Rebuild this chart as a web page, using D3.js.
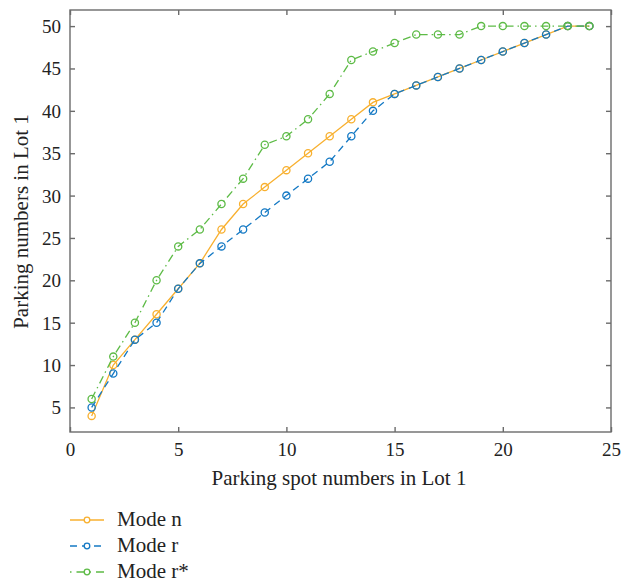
<!DOCTYPE html>
<html><head><meta charset="utf-8">
<script src="https://cdn.jsdelivr.net/npm/d3@7"></script>
<style>body{margin:0;background:#fff}svg{display:block}text{font-family:"Liberation Serif","Times New Roman",serif;fill:#222}</style>
</head><body><svg id="c" width="632" height="583"></svg>
<script>
const spots = [1,2,3,4,5,6,7,8,9,10,11,12,13,14,15,16,17,18,19,20,21,22,23,24];
const modeN = [4,10,13,16,19,22,26,29,31,33,35,37,39,41,42,43,44,45,46,47,48,49,50,50];
const modeR = [5,9,13,15,19,22,24,26,28,30,32,34,37,40,42,43,44,45,46,47,48,49,50,50];
const modeRs = [6,11,15,20,24,26,29,32,36,37,39,42,46,47,48,49,49,49,50,50,50,50,50,50];
const xTicks = [0,5,10,15,20,25];
const yTicks = [5,10,15,20,25,30,35,40,45,50];
const seriesNames = ["Mode n","Mode r","Mode r*"];

const series = [
  {name: seriesNames[0], values: modeN, color: "#F8B02F", dash: null, legDash: null},
  {name: seriesNames[1], values: modeR, color: "#1479C4", dash: "7,5", legDash: "7,5"},
  {name: seriesNames[2], values: modeRs, color: "#5DBB46", dash: "8,4,1.5,4", legDash: "1.5,5,9,4"}
];

const svg = d3.select("#c");
const L = 70, R = 611, T = 10, B = 432;
const x = d3.scaleLinear().domain([0,25]).range([L,R]);
const y = d3.scaleLinear().domain([2.1,51.9]).range([B,T]);
const axisColor = "#6b6b6b";
const fsTick = 19, fsLab = 21;

// frame
svg.append("rect").attr("x",L).attr("y",T).attr("width",R-L).attr("height",B-T)
  .attr("fill","none").attr("stroke",axisColor).attr("stroke-width",1.4);

// axes
const gx = svg.append("g").attr("transform",`translate(0,${B})`)
  .call(d3.axisBottom(x).tickValues(xTicks).tickSize(-5).tickPadding(10).tickFormat(d3.format("d")));
const gxt = svg.append("g").attr("transform",`translate(0,${T})`)
  .call(d3.axisTop(x).tickValues(xTicks).tickSize(-5).tickFormat(""));
const gy = svg.append("g").attr("transform",`translate(${L},0)`)
  .call(d3.axisLeft(y).tickValues(yTicks).tickSize(-5).tickPadding(9).tickFormat(d3.format("d")));
const gyr = svg.append("g").attr("transform",`translate(${R},0)`)
  .call(d3.axisRight(y).tickValues(yTicks).tickSize(-5).tickFormat(""));
[gx,gxt,gy,gyr].forEach(g=>{
  g.select(".domain").remove();
  g.selectAll(".tick line").attr("stroke",axisColor).attr("stroke-width",1.4);
  g.selectAll("text").attr("font-size",fsTick).attr("fill","#222")
    .style("font-family",'"Liberation Serif",serif');
});
gx.selectAll(".tick text").attr("dy",null).attr("y",24);
gy.selectAll(".tick text").attr("dy","0.34em");

// labels
svg.append("text").attr("x",339).attr("y",485).attr("text-anchor","middle")
  .attr("font-size",fsLab).text("Parking spot numbers in Lot 1");
svg.append("text").attr("transform",`translate(28,221.5) rotate(-90)`)
  .attr("text-anchor","middle").attr("font-size",fsLab).text("Parking numbers in Lot 1");

// lines
const line = d3.line().x((d,i)=>x(spots[i])).y(d=>y(d));
series.forEach(s=>{
  const g = svg.append("g");
  g.append("path").attr("d",line(s.values)).attr("fill","none")
    .attr("stroke",s.color).attr("stroke-width",1.3)
    .attr("stroke-dasharray",s.dash);
  g.selectAll("circle").data(s.values).join("circle")
    .attr("cx",(d,i)=>x(spots[i])).attr("cy",d=>y(d)).attr("r",3.6)
    .attr("fill","none").attr("stroke",s.color).attr("stroke-width",1.3);
});

// legend
const leg = svg.append("g");
series.forEach((s,i)=>{
  const cy = 520 + i*26;
  leg.append("line").attr("x1",70).attr("x2",104).attr("y1",cy).attr("y2",cy)
    .attr("stroke",s.color).attr("stroke-width",1.3).attr("stroke-dasharray",s.legDash);
  leg.append("circle").attr("cx",87).attr("cy",cy).attr("r",2.8)
    .attr("fill","#fff").attr("stroke",s.color).attr("stroke-width",1.3);
  leg.append("text").attr("x",117).attr("y",cy+6).attr("font-size",fsLab).text(s.name);
});
</script></body></html>
